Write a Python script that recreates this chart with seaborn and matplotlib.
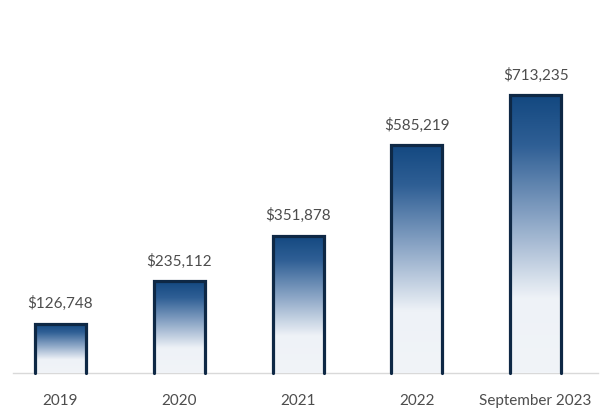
import numpy as np
import pandas as pd
import matplotlib
matplotlib.use("Agg")
import matplotlib.pyplot as plt
import seaborn as sns
from matplotlib.colors import LinearSegmentedColormap

periods = ["2019", "2020", "2021", "2022", "September 2023"]
amounts = [126748, 235112, 351878, 585219, 713235]
labels = ["$126,748", "$235,112", "$351,878", "$585,219", "$713,235"]

df = pd.DataFrame({"period": periods, "amount": amounts})

sns.set_theme(style="white")
plt.rcParams["font.family"] = ["Lato", "DejaVu Sans"]

fig = plt.figure(figsize=(6.09, 4.12), dpi=100)
ax = fig.add_axes([13 / 609, 39 / 412, 585 / 609, 373 / 412])

sns.barplot(data=df, x="period", y="amount", ax=ax, width=0.43,
            color="#164a80", linewidth=0, zorder=3)

# vertical fade: dark blue at the top of each bar to pale at the base
fade = LinearSegmentedColormap.from_list(
    "fade", [(0.0, "#f1f4f8"), (0.27, "#eef2f7"), (0.55, "#8ca6c6"),
             (0.82, "#2f5f95"), (1.0, "#134880")])
grad = np.linspace(0, 1, 256).reshape(-1, 1)
for bar in ax.patches:
    bar.set_facecolor("none")
    x0, w, h = bar.get_x(), bar.get_width(), bar.get_height()
    im = ax.imshow(grad, cmap=fade, aspect="auto", origin="lower",
                   extent=[x0, x0 + w, 0, h], zorder=2, interpolation="bilinear")
    im.set_clip_path(bar)
    # outline on the sides and top only, open at the base
    ax.plot([x0, x0, x0 + w, x0 + w], [0, h, h, 0], color="#0e2845",
            linewidth=2.3, solid_joinstyle="miter", zorder=4, clip_on=False)

ax.set_xlim(-0.4, 4.525)
ax.set_ylim(0, 957000)

for i, (v, t) in enumerate(zip(amounts, labels)):
    ax.annotate(t, (i, v), xytext=(0, 9), textcoords="offset points",
                ha="center", va="bottom", fontsize=11, color="#4d4d4d")

sns.despine(ax=ax, left=True, top=True, right=True)
ax.spines["bottom"].set_color("#d9d9d9")
ax.spines["bottom"].set_linewidth(1.0)
ax.spines["bottom"].set_zorder(1)
ax.set_yticks([])
ax.set_xlabel("")
ax.set_ylabel("")
ax.tick_params(axis="x", length=0, pad=15, labelsize=11, labelcolor="#4d4d4d")

fig.savefig("out.png", dpi=100)
